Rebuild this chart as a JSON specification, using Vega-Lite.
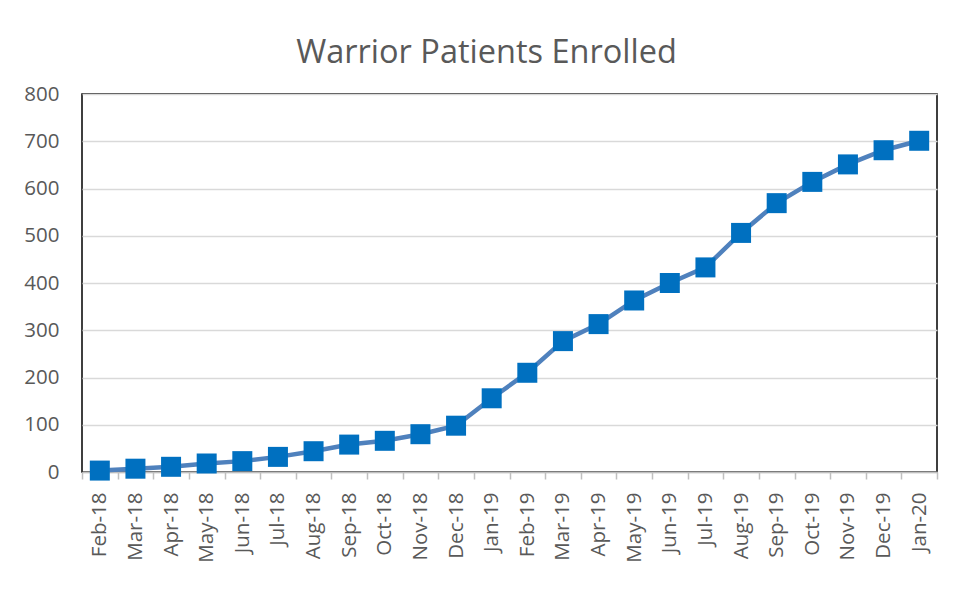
{
  "$schema": "https://vega.github.io/schema/vega-lite/v6.json",
  "width": 855,
  "height": 378,
  "autosize": "none",
  "padding": {"left": 82, "top": 94, "right": 18, "bottom": 117},
  "background": "white",
  "title": {
    "text": "Warrior Patients Enrolled",
    "font": "Open Sans",
    "fontSize": 32.5,
    "fontWeight": "normal",
    "color": "#595959",
    "anchor": "middle",
    "frame": "group",
    "dx": -23,
    "offset": 15
  },
  "config": {
    "view": {"stroke": "#000000", "strokeWidth": 1.5},
    "axis": {
      "labelFont": "Open Sans",
      "labelFontSize": 20.5,
      "labelColor": "#595959",
      "titleColor": "#595959"
    }
  },
  "data": {
    "values": [
      {"month": "Feb-18", "enrolled": 3},
      {"month": "Mar-18", "enrolled": 7},
      {"month": "Apr-18", "enrolled": 11},
      {"month": "May-18", "enrolled": 18},
      {"month": "Jun-18", "enrolled": 23},
      {"month": "Jul-18", "enrolled": 32},
      {"month": "Aug-18", "enrolled": 44},
      {"month": "Sep-18", "enrolled": 58},
      {"month": "Oct-18", "enrolled": 66},
      {"month": "Nov-18", "enrolled": 80},
      {"month": "Dec-18", "enrolled": 98},
      {"month": "Jan-19", "enrolled": 156},
      {"month": "Feb-19", "enrolled": 210},
      {"month": "Mar-19", "enrolled": 277},
      {"month": "Apr-19", "enrolled": 313},
      {"month": "May-19", "enrolled": 363},
      {"month": "Jun-19", "enrolled": 400},
      {"month": "Jul-19", "enrolled": 433},
      {"month": "Aug-19", "enrolled": 506},
      {"month": "Sep-19", "enrolled": 569},
      {"month": "Oct-19", "enrolled": 614},
      {"month": "Nov-19", "enrolled": 651},
      {"month": "Dec-19", "enrolled": 681},
      {"month": "Jan-20", "enrolled": 701}
    ]
  },
  "encoding": {
    "x": {
      "field": "month",
      "type": "nominal",
      "sort": null,
      "scale": {"type": "band", "paddingInner": 0, "paddingOuter": 0},
      "axis": {
        "title": null,
        "labelAngle": -90,
        "labelAlign": "right",
        "labelBaseline": "middle",
        "labelPadding": 13,
        "tickBand": "extent",
        "tickSize": 7,
        "tickColor": "#bfbfbf",
        "tickWidth": 1.5,
        "domainColor": "#bfbfbf",
        "domainWidth": 1.5,
        "grid": false
      }
    },
    "y": {
      "field": "enrolled",
      "type": "quantitative",
      "scale": {"domain": [0, 800], "nice": false},
      "axis": {
        "title": null,
        "values": [0, 100, 200, 300, 400, 500, 600, 700, 800],
        "ticks": false,
        "domain": false,
        "labelPadding": 23,
        "gridColor": "#d9d9d9",
        "gridWidth": 1.5
      }
    }
  },
  "layer": [
    {
      "mark": {"type": "line", "color": "#4f81bd", "strokeWidth": 4.5}
    },
    {
      "mark": {"type": "point", "shape": "square", "filled": true, "color": "#0070c0", "opacity": 1, "size": 400}
    }
  ]
}
